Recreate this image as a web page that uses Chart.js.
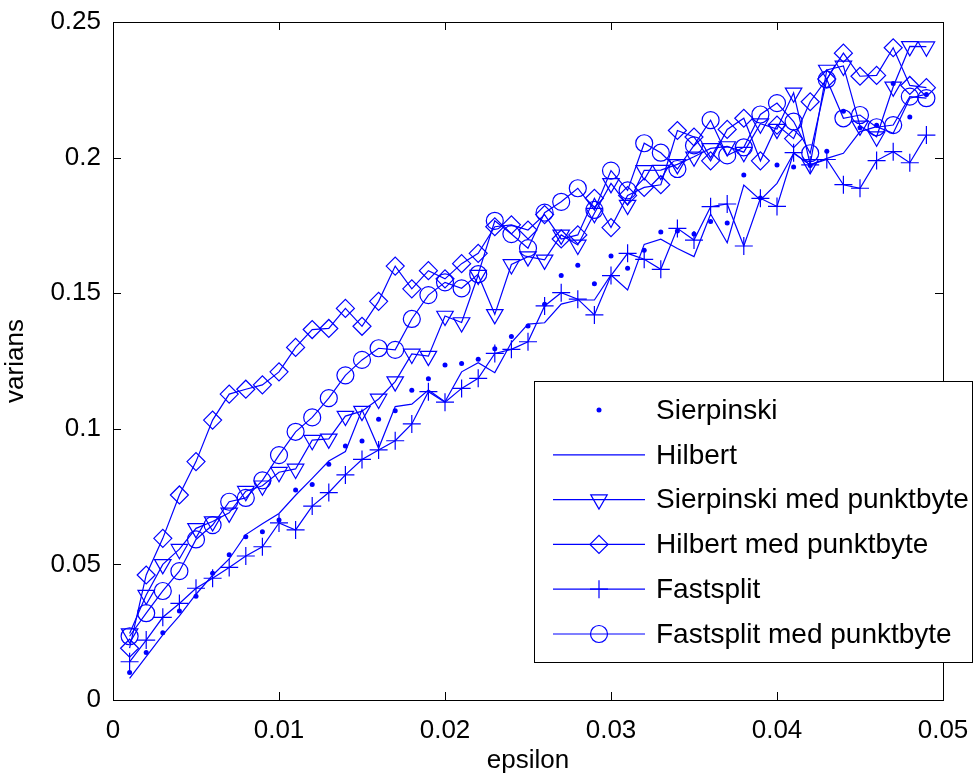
<!DOCTYPE html>
<html>
<head>
<meta charset="utf-8">
<script src="https://cdn.jsdelivr.net/npm/chart.js@4"></script>
<style>
  html, body { margin: 0; padding: 0; background: #fff; }
  #wrap { width: 975px; height: 776px; position: relative; }
</style>
</head>
<body>
<div id="wrap"><canvas id="myChart"></canvas></div>
<script>
const epsilon = [0.001, 0.002, 0.003, 0.004, 0.005, 0.006, 0.007, 0.008, 0.009, 0.010,
  0.011, 0.012, 0.013, 0.014, 0.015, 0.016, 0.017, 0.018, 0.019, 0.020,
  0.021, 0.022, 0.023, 0.024, 0.025, 0.026, 0.027, 0.028, 0.029, 0.030,
  0.031, 0.032, 0.033, 0.034, 0.035, 0.036, 0.037, 0.038, 0.039, 0.040,
  0.041, 0.042, 0.043, 0.044, 0.045, 0.046, 0.047, 0.048, 0.049];

const sierpinski = [0.0101, 0.0175, 0.0248, 0.0328, 0.0383, 0.0467, 0.0536, 0.0602, 0.062, 0.0664,
  0.0774, 0.0795, 0.0869, 0.0937, 0.0955, 0.1035, 0.1067, 0.1142, 0.1185, 0.1235,
  0.1241, 0.1256, 0.1295, 0.134, 0.1379, 0.1459, 0.1565, 0.1603, 0.1535, 0.1637,
  0.1592, 0.1658, 0.1726, 0.1729, 0.1718, 0.1764, 0.1759, 0.1936, 0.1851, 0.1973,
  0.1965, 0.1971, 0.2023, 0.2171, 0.211, 0.2119, 0.2273, 0.215, 0.2233];

const hilbert = [0.008, 0.016, 0.024, 0.031, 0.039, 0.046, 0.052, 0.061, 0.065, 0.0688,
  0.0755, 0.0817, 0.0881, 0.0916, 0.107, 0.0928, 0.1082, 0.1091, 0.1143, 0.11,
  0.121, 0.1244, 0.1207, 0.1318, 0.1386, 0.1391, 0.146, 0.1475, 0.1475, 0.1567,
  0.1512, 0.168, 0.1699, 0.1665, 0.1635, 0.1792, 0.1686, 0.1899, 0.1844, 0.1905,
  0.2016, 0.1973, 0.1997, 0.2016, 0.2096, 0.2114, 0.209, 0.2219, 0.2234];

const sierpinskiPb = [0.0245, 0.0387, 0.05, 0.0556, 0.0633, 0.0658, 0.069, 0.077, 0.079, 0.084,
  0.0852, 0.0958, 0.0963, 0.1047, 0.1065, 0.111, 0.1174, 0.1276, 0.1268, 0.1416,
  0.1392, 0.1567, 0.1422, 0.1606, 0.1635, 0.1623, 0.1715, 0.1678, 0.1795, 0.1905,
  0.1825, 0.1953, 0.1954, 0.1975, 0.2003, 0.2034, 0.2041, 0.202, 0.2125, 0.2105,
  0.2239, 0.1975, 0.2323, 0.2338, 0.2117, 0.2077, 0.2261, 0.241, 0.2409];

const hilbertPb = [0.0191, 0.0461, 0.0596, 0.0756, 0.0879, 0.1032, 0.1128, 0.1146, 0.1162, 0.121,
  0.13, 0.1366, 0.137, 0.1444, 0.1378, 0.147, 0.16, 0.1516, 0.1583, 0.1553,
  0.1609, 0.1647, 0.1745, 0.1752, 0.1733, 0.179, 0.17, 0.1715, 0.185, 0.1742,
  0.186, 0.189, 0.19, 0.21, 0.2076, 0.1988, 0.2104, 0.2145, 0.1988, 0.212,
  0.207, 0.2206, 0.229, 0.2385, 0.23, 0.2303, 0.2405, 0.2266, 0.2258];

const fastsplit = [0.0141, 0.0221, 0.0305, 0.0356, 0.0412, 0.0449, 0.0489, 0.0531, 0.0565, 0.0653,
  0.0627, 0.0715, 0.0765, 0.083, 0.0887, 0.0922, 0.0956, 0.1018, 0.1137, 0.1098,
  0.1149, 0.1186, 0.1278, 0.1293, 0.1321, 0.1453, 0.1502, 0.1478, 0.142, 0.1565,
  0.1647, 0.1625, 0.1588, 0.1739, 0.1696, 0.1819, 0.1829, 0.1674, 0.185, 0.182,
  0.2018, 0.1973, 0.1993, 0.19, 0.1887, 0.1989, 0.2022, 0.1981, 0.2083];

const fastsplitPb = [0.0235, 0.032, 0.0402, 0.0475, 0.0592, 0.0645, 0.0731, 0.0745, 0.081, 0.0903,
  0.0989, 0.1042, 0.1113, 0.1197, 0.1254, 0.1297, 0.1291, 0.1405, 0.1493, 0.154,
  0.1518, 0.157, 0.1767, 0.1718, 0.1666, 0.1797, 0.1837, 0.1887, 0.1807, 0.1952,
  0.1879, 0.2053, 0.2018, 0.1958, 0.2045, 0.2138, 0.2008, 0.2038, 0.2159, 0.2201,
  0.2133, 0.2016, 0.2288, 0.2145, 0.2157, 0.2112, 0.212, 0.2225, 0.2219];

const seriesNames = ['Sierpinski', 'Hilbert', 'Sierpinski med punktbyte',
  'Hilbert med punktbyte', 'Fastsplit', 'Fastsplit med punktbyte'];
const xTicks = [0, 0.01, 0.02, 0.03, 0.04, 0.05];
const yTicks = [0, 0.05, 0.1, 0.15, 0.2, 0.25];

const BLUE = '#0000ff';
const FONT = '"Liberation Sans", Arial, sans-serif';

function pts(arr) {
  return arr.map((v, i) => ({ x: epsilon[i], y: v }));
}

function fmt(v) {
  return String(+Number(v).toFixed(4));
}

// marker drawing, used by the legend box
function marker(ctx, style, x, y, r, rot) {
  ctx.beginPath();
  if (style === 'circle') {
    ctx.arc(x, y, r, 0, Math.PI * 2);
  } else if (style === 'rectRot') {
    ctx.moveTo(x - r, y); ctx.lineTo(x, y - r); ctx.lineTo(x + r, y); ctx.lineTo(x, y + r);
    ctx.closePath();
  } else if (style === 'triangle') {
    let a = (rot || 0) * Math.PI / 180;
    for (let k = 0; k < 3; k++) {
      const px = x + Math.sin(a) * r, py = y - Math.cos(a) * r;
      if (k === 0) ctx.moveTo(px, py); else ctx.lineTo(px, py);
      a += Math.PI * 2 / 3;
    }
    ctx.closePath();
  } else if (style === 'cross') {
    ctx.moveTo(x - r, y); ctx.lineTo(x + r, y);
    ctx.moveTo(x, y - r); ctx.lineTo(x, y + r);
  }
}

const matlabBox = {
  id: 'matlabBox',
  afterDatasetsDraw(chart) {
    const { ctx, chartArea: a, scales } = chart;
    ctx.save();
    ctx.strokeStyle = '#000';
    ctx.lineWidth = 1;
    ctx.strokeRect(a.left + 0.5, a.top + 0.5, a.right - a.left, a.bottom - a.top);
    const tl = 8;
    ctx.beginPath();
    xTicks.forEach(v => {
      const px = Math.round(scales.x.getPixelForValue(v)) + 0.5;
      ctx.moveTo(px, a.bottom); ctx.lineTo(px, a.bottom - tl);
      ctx.moveTo(px, a.top); ctx.lineTo(px, a.top + tl);
    });
    yTicks.forEach(v => {
      const py = Math.round(scales.y.getPixelForValue(v)) + 0.5;
      ctx.moveTo(a.left, py); ctx.lineTo(a.left + tl, py);
      ctx.moveTo(a.right, py); ctx.lineTo(a.right - tl, py);
    });
    ctx.stroke();

    // legend box
    const L = 534, T = 381, W = 438, H = 281;
    ctx.fillStyle = '#fff';
    ctx.fillRect(L, T, W, H);
    ctx.strokeRect(L + 0.5, T + 0.5, W, H);
    ctx.font = '28px ' + FONT;
    ctx.textBaseline = 'middle';
    ctx.textAlign = 'left';
    chart.data.datasets.forEach((ds, i) => {
      const cy = 410 + i * 44.8;
      ctx.strokeStyle = BLUE;
      ctx.fillStyle = BLUE;
      ctx.lineWidth = 1.2;
      if (ds.showLine !== false) {
        ctx.beginPath();
        ctx.moveTo(553, cy); ctx.lineTo(645, cy);
        ctx.stroke();
      }
      if (ds.pointRadius > 0) {
        marker(ctx, ds.pointStyle, 599, cy, ds.pointStyle === 'circle' && ds.showLine === false ? 2.5 : ds.pointRadius, ds.pointRotation);
        if (ds.showLine === false) ctx.fill(); else ctx.stroke();
      }
      ctx.fillStyle = '#000';
      ctx.fillText(ds.label, 656, cy + 1);
    });
    ctx.restore();
  }
};

function series(label, data, style, radius, opts) {
  return Object.assign({
    label: label,
    data: pts(data),
    borderColor: BLUE,
    backgroundColor: 'rgba(0,0,0,0)',
    borderWidth: 1.2,
    pointStyle: style,
    pointRadius: radius,
    pointHoverRadius: radius,
    pointBorderColor: BLUE,
    pointBackgroundColor: 'rgba(0,0,0,0)',
    pointBorderWidth: 1.2,
    tension: 0,
    clip: false
  }, opts || {});
}

const ctx = document.getElementById('myChart').getContext('2d');
const chart = new Chart(ctx, {
  type: 'line',
  data: {
    datasets: [
      series(seriesNames[0], sierpinski, 'circle', 2.5, { showLine: false, pointBackgroundColor: BLUE, pointBorderWidth: 0 }),
      series(seriesNames[1], hilbert, 'circle', 0),
      series(seriesNames[2], sierpinskiPb, 'triangle', 9.5, { pointRotation: 180 }),
      series(seriesNames[3], hilbertPb, 'rectRot', 9),
      series(seriesNames[4], fastsplit, 'cross', 9),
      series(seriesNames[5], fastsplitPb, 'circle', 8.5)
    ]
  },
  options: {
    responsive: true,
    maintainAspectRatio: false,
    animation: false,
    layout: { padding: { top: 22, right: 32, left: 0, bottom: 0 } },
    plugins: {
      legend: { display: false },
      tooltip: { enabled: false }
    },
    scales: {
      x: {
        type: 'linear',
        min: 0,
        max: 0.05,
        afterFit: function (s) { s.height = 76; s.paddingLeft = 0; s.paddingRight = 0; },
        afterBuildTicks: function (s) { s.ticks = xTicks.map(v => ({ value: v })); },
        grid: { display: false, drawTicks: false },
        border: { display: false },
        ticks: {
          color: '#000',
          padding: 15,
          maxRotation: 0,
          font: { size: 26, family: FONT },
          callback: fmt
        },
        title: {
          display: true,
          text: 'epsilon',
          color: '#000',
          padding: 0,
          font: { size: 26, family: FONT }
        }
      },
      y: {
        type: 'linear',
        min: 0,
        max: 0.25,
        afterFit: function (s) { s.width = 113; s.paddingTop = 0; s.paddingBottom = 0; },
        afterBuildTicks: function (s) { s.ticks = yTicks.map(v => ({ value: v })); },
        grid: { display: false, drawTicks: false },
        border: { display: false },
        ticks: {
          color: '#000',
          padding: 12,
          font: { size: 26, family: FONT },
          callback: fmt
        },
        title: {
          display: true,
          text: 'varians',
          color: '#000',
          padding: 0,
          font: { size: 26, family: FONT }
        }
      }
    }
  },
  plugins: [matlabBox]
});
</script>
</body>
</html>
